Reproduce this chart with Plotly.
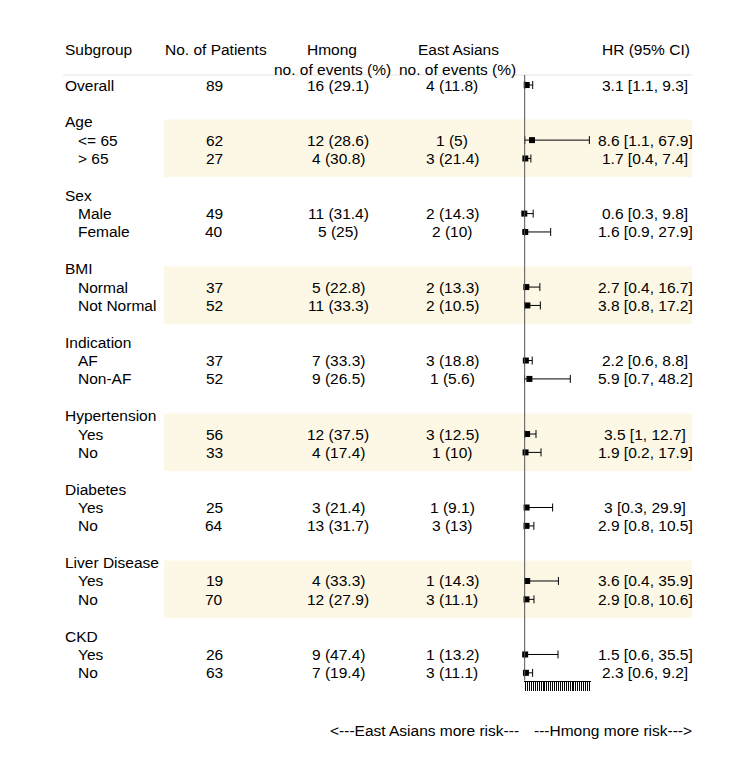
import plotly.graph_objects as go

# ---------------- data ----------------
groups = ["Age", "Sex", "BMI", "Indication", "Hypertension", "Diabetes", "Liver Disease", "CKD"]
levels = ["<= 65", "> 65", "Male", "Female", "Normal", "Not Normal", "AF", "Non-AF",
          "Yes", "No", "Yes", "No", "Yes", "No", "Yes", "No"]
n_patients = [89, 62, 27, 49, 40, 37, 52, 37, 52, 56, 33, 25, 64, 19, 70, 26, 63]
hmong_events = ["16 (29.1)", "12 (28.6)", "4 (30.8)", "11 (31.4)", "5 (25)", "5 (22.8)", "11 (33.3)",
                "7 (33.3)", "9 (26.5)", "12 (37.5)", "4 (17.4)", "3 (21.4)", "13 (31.7)", "4 (33.3)",
                "12 (27.9)", "9 (47.4)", "7 (19.4)"]
east_events = ["4 (11.8)", "1 (5)", "3 (21.4)", "2 (14.3)", "2 (10)", "2 (13.3)", "2 (10.5)",
               "3 (18.8)", "1 (5.6)", "3 (12.5)", "1 (10)", "1 (9.1)", "3 (13)", "1 (14.3)",
               "3 (11.1)", "1 (13.2)", "3 (11.1)"]
hr = [3.1, 8.6, 1.7, 0.6, 1.6, 2.7, 3.8, 2.2, 5.9, 3.5, 1.9, 3, 2.9, 3.6, 2.9, 1.5, 2.3]
ci_low = [1.1, 1.1, 0.4, 0.3, 0.9, 0.4, 0.8, 0.6, 0.7, 1, 0.2, 0.3, 0.8, 0.4, 0.8, 0.6, 0.6]
ci_high = [9.3, 67.9, 7.4, 9.8, 27.9, 16.7, 17.2, 8.8, 48.2, 12.7, 17.9, 29.9, 10.5, 35.9, 10.6, 35.5, 9.2]
shaded_groups = ["Age", "BMI", "Hypertension", "Liver Disease"]
ref_value = 1
arrow_labels = ["<---East Asians more risk---", "---Hmong more risk--->"]

# ---------------- layout helpers ----------------
W, H = 750, 769
ROW0_PX, PITCH = 77.0, 18.37
FONT = dict(family="Liberation Sans, Arial, sans-serif", size=15.5, color="#000000")


def px2row(py):
    return (py - ROW0_PX) / PITCH


def fx(px):
    return px / W


# row indices: overall row 0, groups every 4 rows starting at 2
group_rows = [2 + 4 * g for g in range(len(groups))]
data_rows = [0]
for g in range(len(groups)):
    data_rows += [group_rows[g] + 1, group_rows[g] + 2]
labels = ["Overall"] + levels

fig = go.Figure()

# forest plot
fig.add_trace(go.Scatter(
    x=hr, y=data_rows, xaxis="x2", yaxis="y", mode="markers",
    marker=dict(symbol="square", size=6, color="black"),
    error_x=dict(type="data", symmetric=False,
                 array=[h2 - v for h2, v in zip(ci_high, hr)],
                 arrayminus=[v - l for v, l in zip(hr, ci_low)],
                 color="black", thickness=1, width=4),
    cliponaxis=False, showlegend=False, hoverinfo="skip"))

shapes = []
# shading
for g, r in zip(groups, group_rows):
    if g in shaded_groups:
        shapes.append(dict(type="rect", xref="paper", yref="y", x0=fx(156), x1=fx(684),
                           y0=r - 0.12, y1=r + 3.01, fillcolor="#fdf8e6",
                           line=dict(width=0), layer="below"))
# header separator
sep_row = px2row(67)
shapes.append(dict(type="line", xref="paper", yref="y", x0=fx(55), x1=fx(684),
                   y0=sep_row, y1=sep_row, line=dict(color="#e3e3e3", width=1)))
# reference line
axis_row = px2row(672.5)
shapes.append(dict(type="line", xref="x2", yref="y", x0=ref_value, x1=ref_value,
                   y0=sep_row, y1=axis_row, line=dict(color="#555555", width=1)))

ann = []


def txt(s, px, row, anchor="center"):
    ann.append(dict(text=s, xref="paper", yref="y", x=fx(px), y=row, xanchor=anchor,
                    yanchor="middle", showarrow=False, font=FONT))


h1, h2 = px2row(41.5), px2row(61)
txt("Subgroup", 54.5, h1, "left")
txt("No. of Patients", 208, h1)
txt("Hmong", 324, h1)
txt("no. of events (%)", 324, h2)
txt("East Asians", 450, h1)
txt("no. of events (%)", 449.5, h2)
txt("HR (95% CI)", 638, h1)

for g, r in zip(groups, group_rows):
    txt(g, 54.5, r, "left")

for i, r in enumerate(data_rows):
    txt(labels[i], 54.5 if i == 0 else 67.5, r, "left")
    txt(str(n_patients[i]), 206, r)
    txt(hmong_events[i], 330, r)
    txt(east_events[i], 444, r)
    txt(f"{hr[i]:g} [{ci_low[i]:g}, {ci_high[i]:g}]", 637, r)

arrow_row = px2row(722)
txt(arrow_labels[0], 513, arrow_row, "right")
txt(arrow_labels[1], 524, arrow_row, "left")

fig.update_layout(
    width=W, height=H, autosize=False,
    margin=dict(l=0, r=0, t=0, b=0),
    paper_bgcolor="white", plot_bgcolor="rgba(0,0,0,0)",
    shapes=shapes, annotations=ann,
    xaxis=dict(visible=False, range=[0, 1], domain=[0, 1], fixedrange=True),
    yaxis=dict(visible=False, range=[px2row(H), px2row(0)], domain=[0, 1], anchor="x"),
    xaxis2=dict(domain=[fx(516), fx(583)], range=[0.3, 69.6], anchor="free",
                position=1 - 672.5 / H, showline=True, linecolor="black", linewidth=1,
                ticks="outside", ticklen=9, tickcolor="black", tickwidth=1,
                tick0=0, dtick=2, showticklabels=False, showgrid=False, zeroline=False),
)

fig.write_html("out.html")
